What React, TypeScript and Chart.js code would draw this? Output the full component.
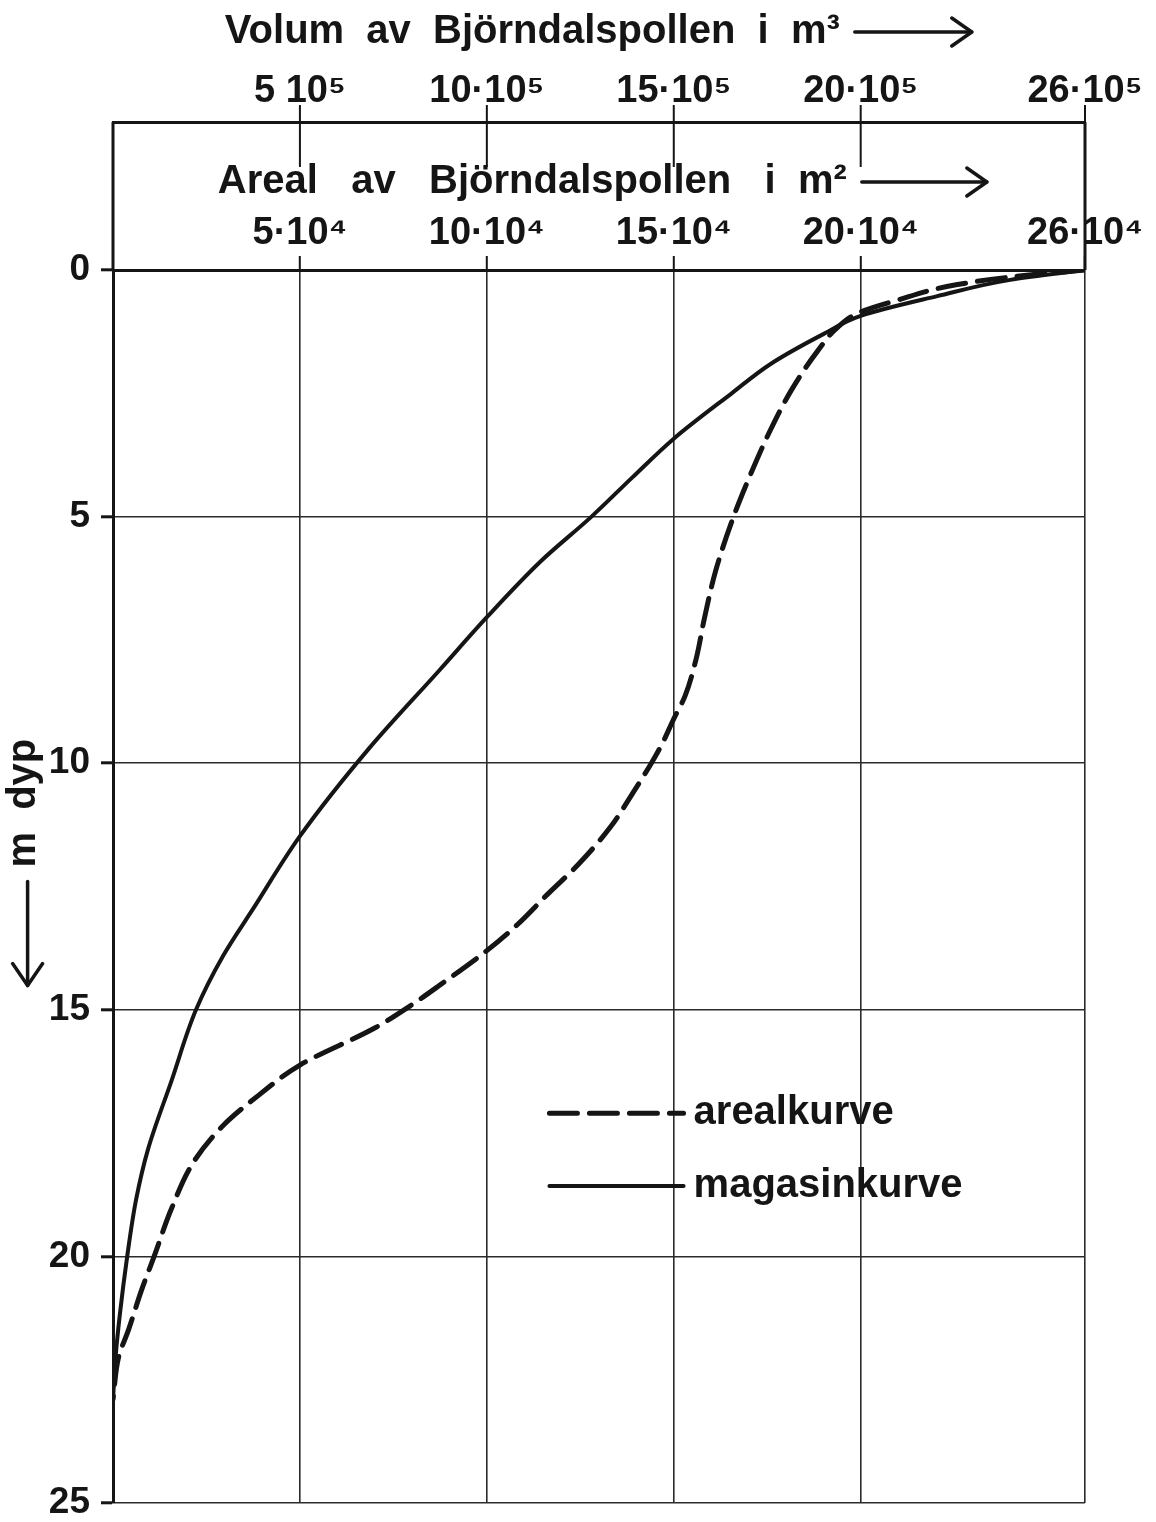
import { useEffect, useRef } from 'react';
import { Chart, registerables } from 'chart.js';

Chart.register(...registerables);

// ---- data ----
const depthMin = 0;
const depthMax = 25;
const depthStep = 5;

const xMin = 0;
const xMax = 26;
const xTickValues = [5, 10, 15, 20, 26];
const volumeTickLabels = ['5 10⁵', '10·10⁵', '15·10⁵', '20·10⁵', '26·10⁵'];
const areaTickLabels = ['5·10⁴', '10·10⁴', '15·10⁴', '20·10⁴', '26·10⁴'];

const volumeTitleWords = 'Volum  av  Björndalspollen  i  m³';
const areaTitleWords = 'Areal   av   Björndalspollen   i  m²';
const depthTitleWords = 'm  dyp';

const legendLabels = ['arealkurve', 'magasinkurve'];

// arealkurve: area in 10^4 m² at depth (m)
const arealDepth = [0, 0.1, 0.3, 0.63, 0.85, 1.15, 1.64, 2.43, 3.3, 4.15, 5.0, 6.1, 7.06, 7.88, 8.64, 9.1, 9.59, 10.0, 10.55, 11.3, 12.05, 12.66, 13.27, 13.8, 14.49, 14.92, 15.37, 16.12, 16.73, 17.35, 18.08, 19.04, 20.0, 20.67, 21.5, 22.04, 22.9];
const arealValue = [26, 24.5, 22.55, 20.9, 20.0, 19.4, 18.85, 18.15, 17.55, 17.05, 16.6, 16.12, 15.82, 15.6, 15.3, 15.0, 14.7, 14.4, 13.95, 13.3, 12.45, 11.62, 10.82, 10.0, 8.76, 7.95, 7.0, 5.0, 3.9, 2.94, 2.16, 1.56, 1.1, 0.77, 0.41, 0.15, 0];

// magasinkurve: volume in 10^5 m³ at depth (m)
const magasinDepth = [0, 0.2, 0.53, 0.93, 1.3, 1.9, 2.5, 3.42, 4.2, 5.0, 5.9, 7.04, 8.1, 9.7, 11.48, 12.95, 13.9, 15.0, 16.45, 17.82, 18.84, 20.0, 21.2, 22.04, 22.9];
const magasinValue = [26, 24.0, 22.05, 20.0, 19.0, 17.6, 16.55, 15.0, 13.9, 12.8, 11.45, 10.0, 8.75, 6.85, 5.0, 3.75, 2.95, 2.22, 1.56, 0.94, 0.62, 0.38, 0.18, 0.07, 0];

const FONT = "'Liberation Sans', 'DejaVu Sans', sans-serif";
const INK = '#151515';
const GRID = '#2b2b2b';

const TITLE_SIZE = 40;
const font = (size: number, family = FONT) => ({ family, size, weight: 'bold' as const, lineHeight: 1.2 });

export default function App() {
  const ref = useRef<HTMLCanvasElement>(null);

  useEffect(() => {
    const canvas = ref.current;
    if (!canvas) return;

    const spaces = (n: number) => ' '.repeat(n);
    const volumeTitle = volumeTitleWords + spaces(12);
    const areaTitle = areaTitleWords + spaces(12);
    const depthTitle = spaces(15) + depthTitleWords;

    const yTitlePad = 0;
    const volTitlePad = 8;
    const areaTitlePad = 36;

    const frameAndLegend = {
      id: 'frameAndLegend',
      afterDatasetsDraw(chart: any) {
        const { ctx, chartArea, scales } = chart;
        const xVol = scales.xVol;
        const xArea = scales.xArea;
        const yS = scales.y;
        const bandTop = xVol.bottom;
        const line = (x1: number, y1: number, x2: number, y2: number) => {
          ctx.beginPath();
          ctx.moveTo(x1, y1);
          ctx.lineTo(x2, y2);
          ctx.stroke();
        };
        ctx.save();
        ctx.strokeStyle = INK;
        ctx.lineCap = 'butt';
        ctx.lineWidth = 3;
        line(chartArea.left, bandTop, chartArea.left, chartArea.top);
        line(chartArea.right, bandTop, chartArea.right, chartArea.top);
        ctx.lineWidth = 2;
        xVol.ticks.forEach((t: any) => {
          const x = xVol.getPixelForValue(t.value);
          line(x, bandTop - 17, x, bandTop + 45);
        });

        // arrows that follow the axis titles
        const lh = TITLE_SIZE * 1.2;
        ctx.font = `bold ${TITLE_SIZE}px ${FONT}`;
        const arrowRight = (xStart: number, xEnd: number, y: number) => {
          ctx.lineWidth = 3.5;
          ctx.lineCap = 'round';
          ctx.lineJoin = 'round';
          line(xStart, y, xEnd, y);
          ctx.beginPath();
          ctx.moveTo(xEnd - 20, y - 14);
          ctx.lineTo(xEnd, y);
          ctx.lineTo(xEnd - 20, y + 14);
          ctx.stroke();
        };
        const hTitleArrow = (scale: any, full: string, words: string, pad: number, len: number) => {
          const cx = (scale.left + scale.right) / 2;
          const wf = ctx.measureText(full).width;
          const ww = ctx.measureText(words).width;
          const end = cx - wf / 2 + ww;
          const y = scale.top + pad + lh / 2;
          arrowRight(end + 15, end + 15 + len, y);
        };
        hTitleArrow(xVol, volumeTitle, volumeTitleWords, volTitlePad, 117);
        hTitleArrow(xArea, areaTitle, areaTitleWords, areaTitlePad, 125);

        {
          const cy = (yS.top + yS.bottom) / 2;
          const wf = ctx.measureText(depthTitle).width;
          const ww = ctx.measureText(depthTitleWords).width;
          const wordsBottom = cy - wf / 2 + ww;
          const x = yS.left + yTitlePad + lh / 2 + TITLE_SIZE * 0.09;
          const y0 = wordsBottom + 14;
          const y1 = wordsBottom + 118;
          ctx.lineWidth = 3.5;
          ctx.lineCap = 'round';
          ctx.lineJoin = 'round';
          line(x, y0, x, y1);
          ctx.beginPath();
          ctx.moveTo(x - 15, y1 - 22);
          ctx.lineTo(x, y1);
          ctx.lineTo(x + 15, y1 - 22);
          ctx.stroke();
        }

        // legend
        const w = chartArea.right - chartArea.left;
        const h = chartArea.bottom - chartArea.top;
        const x0 = chartArea.left + w * 0.449;
        const x1 = chartArea.left + w * 0.587;
        const rows = [0.684, 0.743].map((f) => chartArea.top + h * f);
        chart.data.datasets.forEach((ds: any, i: number) => {
          ctx.strokeStyle = ds.borderColor;
          ctx.lineWidth = ds.borderWidth;
          ctx.lineCap = ds.borderCapStyle || 'butt';
          ctx.setLineDash(ds.borderDash || []);
          line(x0, rows[i], x1, rows[i]);
          ctx.setLineDash([]);
          ctx.fillStyle = INK;
          ctx.font = `bold 40px ${FONT}`;
          ctx.textAlign = 'left';
          ctx.textBaseline = 'middle';
          ctx.fillText(ds.label, x1 + 10, rows[i]);
        });
        ctx.restore();
      },
    };

    const chart = new Chart(canvas, {
      type: 'line',
      data: {
        datasets: [
          {
            label: legendLabels[0],
            data: arealDepth.map((d, i) => ({ x: arealValue[i], y: d })),
            xAxisID: 'xArea',
            yAxisID: 'y',
            borderColor: INK,
            borderWidth: 5,
            borderDash: [28, 12],
            borderCapStyle: 'round',
            pointRadius: 0,
            fill: false,
            cubicInterpolationMode: 'monotone',
          },
          {
            label: legendLabels[1],
            data: magasinDepth.map((d, i) => ({ x: magasinValue[i], y: d })),
            xAxisID: 'xVol',
            yAxisID: 'y',
            borderColor: INK,
            borderWidth: 4,
            borderDash: [],
            borderCapStyle: 'round',
            pointRadius: 0,
            fill: false,
            cubicInterpolationMode: 'monotone',
          },
        ],
      },
      options: {
        indexAxis: 'y',
        animation: false,
        responsive: false,
        devicePixelRatio: 1,
        layout: { padding: { left: 0, top: 0, right: 71, bottom: 19 } },
        plugins: { legend: { display: false }, tooltip: { enabled: false } },
        scales: {
          y: {
            type: 'linear',
            position: 'left',
            reverse: true,
            min: depthMin,
            max: depthMax,
            afterFit: (s: any) => {
              s.width = 113;
              s.paddingTop = 0;
              s.paddingBottom = 0;
            },
            ticks: { stepSize: depthStep, color: INK, font: font(37), padding: 11 },
            grid: { color: GRID, lineWidth: 1.6, drawTicks: true, tickLength: 12, tickWidth: 3, tickColor: INK },
            border: { display: true, color: INK, width: 3 },
            title: { display: true, text: depthTitle, color: INK, font: font(TITLE_SIZE), padding: { top: yTitlePad, bottom: 0 } },
          },
          xVol: {
            type: 'linear',
            axis: 'x',
            position: 'top',
            weight: 1,
            min: xMin,
            max: xMax,
            afterBuildTicks: (s: any) => {
              s.ticks = xTickValues.map((v) => ({ value: v }));
            },
            afterFit: (s: any) => {
              s.height = 122;
              s.paddingLeft = 0;
              s.paddingRight = 0;
            },
            ticks: {
              callback: (_v: any, i: number) => volumeTickLabels[i],
              color: INK,
              font: font(38),
              padding: 8,
              autoSkip: false,
              maxRotation: 0,
              minRotation: 0,
            },
            grid: { drawOnChartArea: false, drawTicks: false },
            border: { display: true, color: INK, width: 3 },
            title: { display: true, text: volumeTitle, color: INK, font: font(TITLE_SIZE), padding: { top: volTitlePad, bottom: 0 } },
          },
          xArea: {
            type: 'linear',
            axis: 'x',
            position: 'top',
            weight: 0,
            min: xMin,
            max: xMax,
            afterBuildTicks: (s: any) => {
              s.ticks = xTickValues.map((v) => ({ value: v }));
            },
            afterFit: (s: any) => {
              s.height = 148;
              s.paddingLeft = 0;
              s.paddingRight = 0;
            },
            ticks: {
              callback: (_v: any, i: number) => areaTickLabels[i],
              color: INK,
              font: font(38),
              padding: 0,
              autoSkip: false,
              maxRotation: 0,
              minRotation: 0,
            },
            grid: { drawOnChartArea: true, color: GRID, lineWidth: 1.6, drawTicks: true, tickLength: 14, tickWidth: 2, tickColor: INK },
            border: { display: true, color: INK, width: 3 },
            title: { display: true, text: areaTitle, color: INK, font: font(TITLE_SIZE), padding: { top: areaTitlePad, bottom: 0 } },
          },
        },
      } as any,
      plugins: [frameAndLegend],
    });

    return () => chart.destroy();
  }, []);

  return (
    <div style={{ position: 'fixed', left: 0, top: 0, width: 1156, height: 1522, background: '#fff' }}>
      <canvas ref={ref} width={1156} height={1522} style={{ display: 'block' }} />
    </div>
  );
}
